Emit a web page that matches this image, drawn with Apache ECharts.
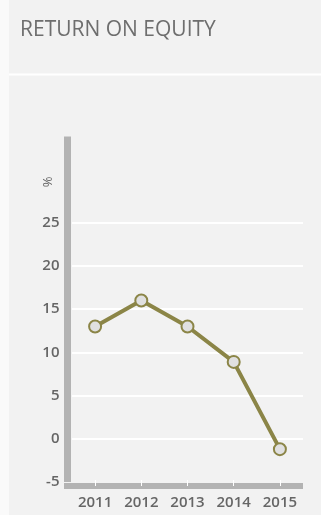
<!DOCTYPE html>
<html>
<head>
<meta charset="utf-8">
<script src="https://cdn.jsdelivr.net/npm/echarts@6/dist/echarts.min.js"></script>
<style>
html,body{margin:0;padding:0;background:#fafafa;}
#c{width:321px;height:515px;}
</style>
</head>
<body>
<div id="c"></div>
<script>
const titleText = "RETURN ON EQUITY";
const unitLabel = "%";
const years = ["2011", "2012", "2013", "2014", "2015"];
const roe = [13, 16, 13, 8.9, -1.2];
const yShownTicks = [-5, 0, 5, 10, 15, 20, 25];

const chart = echarts.init(document.getElementById('c'), null, {renderer: 'canvas'});
const olive = '#8b8547';
chart.setOption({
  backgroundColor: 'transparent',
  animation: false,
  graphic: [
    {type: 'rect', z: -10, shape: {x: 9, y: 0, width: 312, height: 515}, style: {fill: '#f2f2f2'}},
    {type: 'line', z: -9, shape: {x1: 9, y1: 74.5, x2: 321, y2: 74.5}, style: {stroke: '#ffffff', lineWidth: 2}},
    {type: 'rect', z: 10, shape: {x: 64, y: 483, width: 9, height: 6}, style: {fill: '#b3b3b3'}},
    {type: 'text', left: 20, top: 20, style: {text: titleText, fill: '#6e6e6e', font: '400 21px "Open Sans"'}},
    {type: 'text', x: 48, y: 182, rotation: Math.PI / 2, style: {text: unitLabel, fill: '#666666', font: '13px "Open Sans"', align: 'center', verticalAlign: 'middle'}}
  ],
  grid: {left: 72, right: 18, top: 136.4, bottom: 33, containLabel: false},
  xAxis: {
    type: 'category',
    data: years,
    boundaryGap: true,
    offset: 4,
    axisLine: {show: true, onZero: false, lineStyle: {color: '#b3b3b3', width: 6, cap: 'butt'}},
    axisTick: {show: true, alignWithLabel: true, inside: true, length: 6, lineStyle: {color: '#ffffff', width: 1}},
    axisLabel: {color: '#666666', fontFamily: 'Open Sans', fontWeight: 600, fontSize: 15, margin: 9},
    splitLine: {show: false}
  },
  yAxis: {
    type: 'value',
    min: -5, max: 35, interval: 5,
    offset: 4.5,
    axisLine: {show: true, onZero: false, lineStyle: {color: '#b3b3b3', width: 7, cap: 'butt'}},
    axisTick: {show: false},
    axisLabel: {
      color: '#666666', fontFamily: 'Open Sans', fontWeight: 600, fontSize: 15, margin: 8,
      formatter: function (v) { return yShownTicks.indexOf(v) >= 0 ? String(v) : ''; }
    },
    splitLine: {show: true, lineStyle: {color: ['rgba(255,255,255,0)', '#ffffff', '#ffffff', '#ffffff', '#ffffff', '#ffffff', '#ffffff', 'rgba(255,255,255,0)', 'rgba(255,255,255,0)'], width: 2}}
  },
  series: [{
    type: 'line',
    data: roe,
    lineStyle: {color: olive, width: 4},
    itemStyle: {color: '#e0e0e0', borderColor: olive, borderWidth: 2},
    symbol: 'circle',
    symbolSize: 12,
    z: 5
  }]
});
</script>
</body>
</html>
